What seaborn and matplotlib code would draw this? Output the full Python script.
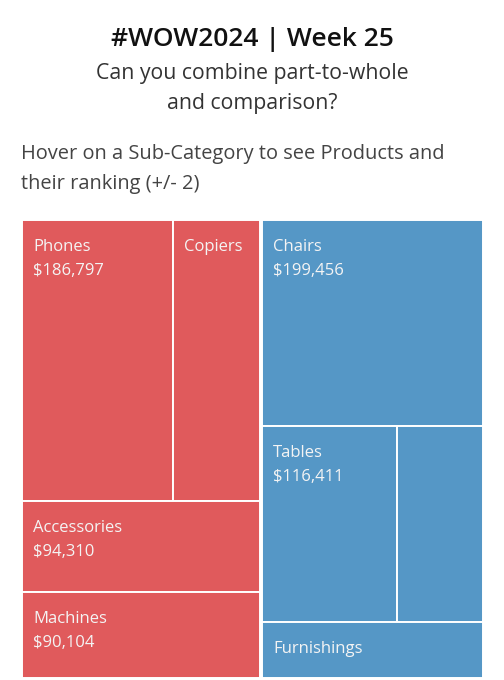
import matplotlib
matplotlib.use("Agg")
import matplotlib.pyplot as plt
import seaborn as sns
import pandas as pd

tech_names = ["Phones", "Copiers", "Accessories", "Machines"]
tech_sales = [186797, 106900, 94310, 90104]
tech_rows = [0, 0, 1, 2]
tech_show_value = [True, False, True, True]

furn_names = ["Chairs", "Tables", "Bookcases", "Furnishings"]
furn_sales = [199456, 116411, 73700, 54500]
furn_rows = [0, 1, 1, 2]
furn_show_name = [True, True, False, True]
furn_show_value = [True, True, False, False]

category_names = ["Technology", "Furniture"]
category_colors = ["#E05A5C", "#5597C6"]

title = "#WOW2024 | Week 25"
subtitle = ["Can you combine part-to-whole", "and comparison?"]
hover_text = ["Hover on a Sub-Category to see Products and", "their ranking (+/- 2)"]

df = pd.DataFrame({
    "Category": ["Technology"] * 4 + ["Furniture"] * 4,
    "SubCategory": tech_names + furn_names,
    "Sales": tech_sales + furn_sales,
    "Row": tech_rows + furn_rows,
    "ShowName": [True] * 4 + furn_show_name,
    "ShowValue": tech_show_value + furn_show_value,
})

sns.set_theme(style="white")
plt.rcParams["font.family"] = ["Open Sans", "DejaVu Sans"]

fig = plt.figure(figsize=(5.04, 6.8), dpi=100)
ax = fig.add_axes([22 / 504, 2 / 680, 461 / 504, 458 / 680])

# treemap: categorias lado a lado, sub-categorias en filas
total = df["Sales"].sum()
gap = 0.0045
x0 = 0.0
for cat, color in zip(category_names, category_colors):
    sub = df[df["Category"] == cat]
    cat_total = sub["Sales"].sum()
    cat_w = cat_total / total
    if x0 > 0:
        left = x0 + gap / 2
        width = 1 - left
    else:
        left = 0.0
        width = cat_w - gap / 2
    top = 1.0
    for r, row in sub.groupby("Row", sort=True):
        row_h = row["Sales"].sum() / cat_total
        xx = left
        for _, item in row.iterrows():
            w = width * item["Sales"] / row["Sales"].sum()
            ax.bar(xx, row_h, width=w, bottom=top - row_h, align="edge",
                   color=color, edgecolor="white", linewidth=1.4)
            if item["ShowName"]:
                ax.annotate(item["SubCategory"], (xx, top), xytext=(8, -19.5),
                            textcoords="offset points", ha="left", va="center",
                            color="#f4f4f4", fontsize=12)
            if item["ShowValue"]:
                ax.annotate(f"${item['Sales']:,}", (xx, top), xytext=(8, -36.8),
                            textcoords="offset points", ha="left", va="center",
                            color="#f4f4f4", fontsize=12)
            xx += w
        top -= row_h
    x0 += cat_w

ax.set_xlim(0, 1)
ax.set_ylim(0, 1)
ax.axis("off")

fig.text(0.5, 1 - 45.5 / 680, title, ha="center", va="baseline",
         fontsize=19, fontweight="semibold", color="#111111")
fig.text(0.5, 1 - 78.5 / 680, subtitle[0], ha="center", va="baseline",
         fontsize=15.3, color="#333333")
fig.text(0.5, 1 - 109.5 / 680, subtitle[1], ha="center", va="baseline",
         fontsize=15.3, color="#333333")
fig.text(21 / 504, 1 - 159.5 / 680, hover_text[0], ha="left", va="baseline",
         fontsize=14.4, color="#444444")
fig.text(21 / 504, 1 - 189 / 680, hover_text[1], ha="left", va="baseline",
         fontsize=14.4, color="#444444")

fig.savefig("out.png", dpi=100)
